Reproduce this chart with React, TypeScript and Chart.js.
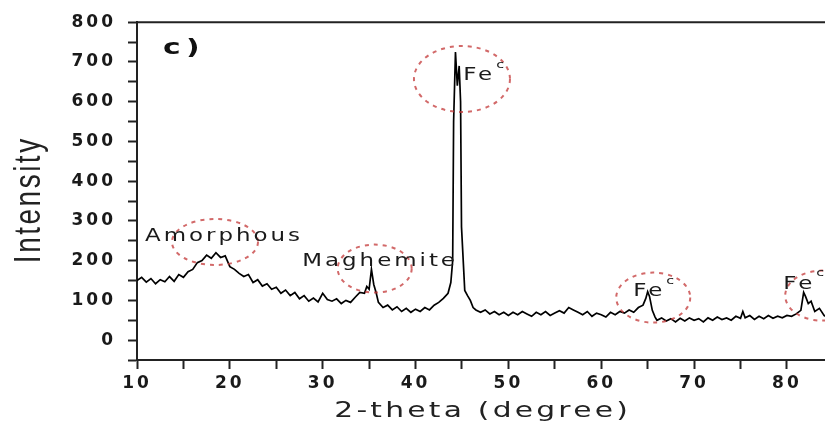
import React, { useEffect, useRef } from "react";
import { Chart, registerables } from "chart.js";

Chart.register(...registerables);

// 2-theta positions (degree)
const twoTheta = [
  10, 10.5, 11, 11.5, 12, 12.5, 13, 13.5, 14, 14.5, 15, 15.5, 16, 16.5, 17, 17.5, 18, 18.5, 19, 19.5,
  20, 20.5, 21, 21.5, 22, 22.5, 23, 23.5, 24, 24.5, 25, 25.5, 26, 26.5, 27, 27.5, 28, 28.5, 29, 29.5,
  30, 30.5, 31, 31.5, 32, 32.5, 33, 33.5, 34, 34.5, 34.75, 35, 35.25, 35.5, 35.75, 36, 36.5, 37, 37.5,
  38, 38.5, 39, 39.5, 40, 40.5, 41, 41.5, 42, 42.5, 43, 43.5, 43.8, 44.0, 44.1, 44.3, 44.5, 44.7, 44.85,
  44.95, 45.3, 45.6, 45.9, 46.2, 46.5, 47, 47.5, 48, 48.5, 49, 49.5, 50, 50.5, 51, 51.5, 52, 52.5, 53,
  53.5, 54, 54.5, 55, 55.5, 56, 56.5, 57, 57.5, 58, 58.5, 59, 59.5, 60, 60.5, 61, 61.5, 62, 62.5, 63,
  63.5, 64, 64.5, 64.8, 65.0, 65.2, 65.5, 65.8, 66, 66.5, 67, 67.5, 68, 68.5, 69, 69.5, 70, 70.5, 71,
  71.5, 72, 72.5, 73, 73.5, 74, 74.5, 75, 75.25, 75.5, 76, 76.5, 77, 77.5, 78, 78.5, 79, 79.5, 80, 80.5,
  81, 81.5, 81.8, 82.0, 82.3, 82.6, 83, 83.5, 84, 84.1,
];

// measured intensity
const intensity = [
  150, 158, 146, 155, 142, 152, 147, 160, 148, 165, 158, 172, 178, 195, 200, 214, 206, 220, 208, 212,
  185, 178, 168, 160, 165, 145, 152, 136, 142, 128, 133, 118, 126, 112, 120, 104, 112, 98, 106, 96,
  118, 102, 98, 104, 92, 100, 95, 108, 120, 118, 135, 128, 178, 140, 120, 95, 82, 88, 76,
  84, 72, 80, 70, 78, 72, 82, 76, 88, 95, 105, 118, 145, 200, 550, 725, 640, 690, 600,
  285, 125, 112, 100, 82, 76, 70, 76, 66, 72, 64, 70, 62, 70, 64, 72, 66, 60, 70,
  64, 72, 62, 68, 74, 68, 82, 76, 70, 64, 72, 60, 68, 64, 58, 70, 64, 72, 68, 76,
  70, 82, 88, 105, 122, 110, 75, 58, 50, 56, 48, 54, 46, 55, 48, 56, 50, 54, 46,
  56, 50, 58, 52, 56, 50, 60, 55, 72, 56, 62, 52, 60, 54, 62, 55, 60, 56, 62, 60,
  66, 75, 120, 110, 92, 98, 72, 80, 62, 60,
];

// axis ticks (labels only on every other one)
const xTickValues = [10, 15, 20, 25, 30, 35, 40, 45, 50, 55, 60, 65, 70, 75, 80];
const xTickLabels = ["10", "", "20", "", "30", "", "40", "", "50", "", "60", "", "70", "", "80"];
const yTickValues = [-50, 0, 50, 100, 150, 200, 250, 300, 350, 400, 450, 500, 550, 600, 650, 700, 750, 800];
const yTickLabels = ["", "0", "", "100", "", "200", "", "300", "", "400", "", "500", "", "600", "", "700", "", "800"];

// annotation rings (centre in data units, radii in px)
const ringX = [18.4, 45.0, 35.6, 65.6, 83.8];
const ringY = [247, 657, 180, 107, 112];
const ringRx = [43, 48, 37, 37, 37];
const ringRy = [23, 33, 24, 25, 25];

// annotation texts (left edge / vertical middle in data units)
const noteText = ["Amorphous", "Maghemite", "Fe", "Fe", "Fe"];
const noteSup = ["", "", "c", "c", "c"];
const noteX = [10.86, 27.8, 45.13, 63.45, 79.6];
const noteY = [260, 197, 665, 122, 140];

const panelLabel = "c)";
const panelX = 12.8;
const panelY = 735;

const xTitle = "2-theta (degree)";
const yTitle = "Intensity";

const X_MIN = 10;
const X_MAX = 84.1;
const Y_MIN = -50;
const Y_MAX = 800;

function drawStretched(
  ctx: CanvasRenderingContext2D,
  text: string,
  x: number,
  y: number,
  font: string,
  sx: number,
  ls: number,
  align: "left" | "center",
  color: string
) {
  ctx.save();
  ctx.font = font;
  (ctx as any).letterSpacing = ls + "px";
  ctx.textBaseline = "middle";
  ctx.textAlign = "left";
  ctx.fillStyle = color;
  ctx.translate(x, y);
  ctx.scale(sx, 1);
  const w = ctx.measureText(text).width;
  const dx = align === "center" ? -(w - ls) / 2 : 0;
  ctx.fillText(text, dx, 0);
  ctx.restore();
  return (w - ls) * sx;
}

const decorPlugin = {
  id: "decor",
  beforeLayout(chart: any) {
    chart.ctx.letterSpacing = "3px";
  },
  beforeDraw(chart: any) {
    chart.ctx.letterSpacing = "3px";
  },
  afterDraw(chart: any) {
    const ctx: CanvasRenderingContext2D = chart.ctx;
    const xs = chart.scales.x;
    const ys = chart.scales.y;
    const area = chart.chartArea;

    // top frame line
    ctx.save();
    ctx.strokeStyle = "#222";
    ctx.lineWidth = 2;
    ctx.beginPath();
    ctx.moveTo(area.left - 1, area.top);
    ctx.lineTo(area.right + 2, area.top);
    ctx.stroke();
    ctx.restore();

    // dashed rings
    ctx.save();
    ctx.strokeStyle = "rgba(195,55,55,0.75)";
    ctx.lineWidth = 2;
    ctx.setLineDash([4, 5]);
    for (let i = 0; i < ringX.length; i++) {
      ctx.beginPath();
      ctx.ellipse(
        xs.getPixelForValue(ringX[i]),
        ys.getPixelForValue(ringY[i]),
        ringRx[i],
        ringRy[i],
        0,
        0,
        Math.PI * 2
      );
      ctx.stroke();
    }
    ctx.restore();

    // annotation texts
    for (let i = 0; i < noteText.length; i++) {
      const px = xs.getPixelForValue(noteX[i]);
      const py = ys.getPixelForValue(noteY[i]);
      const w = drawStretched(ctx, noteText[i], px, py, '17px "DejaVu Sans"', 1.35, 2.2, "left", "#1a1a1a");
      if (noteSup[i]) {
        drawStretched(ctx, noteSup[i], px + w + 4, py - 11, '11px "DejaVu Sans"', 1.3, 0, "left", "#1a1a1a");
      }
    }

    // panel label
    drawStretched(
      ctx,
      panelLabel,
      xs.getPixelForValue(panelX),
      ys.getPixelForValue(panelY),
      'bold 22px "DejaVu Sans"',
      1.35,
      4,
      "left",
      "#111"
    );

    // x title
    drawStretched(ctx, xTitle, (area.left + 825) / 2, 411, '22px "DejaVu Sans"', 1.35, 2.4, "center", "#222");

    // y title (rotated)
    ctx.save();
    ctx.font = '28px "Liberation Sans"';
    (ctx as any).letterSpacing = "2.5px";
    ctx.textBaseline = "middle";
    ctx.textAlign = "left";
    ctx.fillStyle = "#222";
    ctx.translate(30, 201);
    ctx.rotate(-Math.PI / 2);
    ctx.scale(1, 1.35);
    const w = ctx.measureText(yTitle).width - 2.5;
    ctx.fillText(yTitle, -w / 2, 0);
    ctx.restore();
  },
};

export default function App() {
  const ref = useRef<HTMLCanvasElement>(null);

  useEffect(() => {
    const points = twoTheta.map((x, i) => ({ x, y: intensity[i] }));
    const chart = new Chart(ref.current!, {
      type: "line",
      data: {
        datasets: [
          {
            data: points,
            borderColor: "#000",
            borderWidth: 1.7,
            pointRadius: 0,
            tension: 0,
            fill: false,
          },
        ],
      },
      options: {
        responsive: false,
        animation: false,
        devicePixelRatio: 1,
        events: [],
        layout: { padding: { left: 0, right: 0, top: 20, bottom: 0 } },
        plugins: { legend: { display: false }, tooltip: { enabled: false } },
        scales: {
          x: {
            type: "linear",
            min: X_MIN,
            max: X_MAX,
            afterFit(scale: any) {
              scale.height = 74;
            },
            afterBuildTicks(scale: any) {
              scale.ticks = xTickValues.map((v) => ({ value: v }));
            },
            border: { display: true, color: "#222", width: 2 },
            grid: {
              display: true,
              drawOnChartArea: false,
              drawTicks: true,
              tickLength: 9,
              tickWidth: 2,
              tickColor: "#222",
            },
            ticks: {
              autoSkip: false,
              maxRotation: 0,
              padding: 4,
              color: "#1a1a1a",
              font: { family: "DejaVu Sans", size: 17, weight: "bold" },
              callback: (v: any) => {
                const i = xTickValues.indexOf(Number(v));
                return i >= 0 ? xTickLabels[i] : "";
              },
            },
          },
          y: {
            type: "linear",
            min: Y_MIN,
            max: Y_MAX,
            afterFit(scale: any) {
              scale.width = 137;
            },
            afterBuildTicks(scale: any) {
              scale.ticks = yTickValues.map((v) => ({ value: v }));
            },
            border: { display: true, color: "#222", width: 2 },
            grid: {
              display: true,
              drawOnChartArea: false,
              drawTicks: true,
              tickLength: 9,
              tickWidth: 2,
              tickColor: "#222",
            },
            ticks: {
              autoSkip: false,
              padding: 12,
              color: "#1a1a1a",
              font: { family: "DejaVu Sans", size: 17, weight: "bold" },
              callback: (v: any) => {
                const i = yTickValues.indexOf(Number(v));
                return i >= 0 ? yTickLabels[i] : "";
              },
            },
          },
        },
      },
      plugins: [decorPlugin],
    } as any);
    return () => chart.destroy();
  }, []);

  return (
    <div style={{ position: "fixed", left: 0, top: 0, width: 825, height: 434, background: "#fff" }}>
      <canvas ref={ref} width={825} height={434} style={{ display: "block", width: 825, height: 434 }} />
    </div>
  );
}
